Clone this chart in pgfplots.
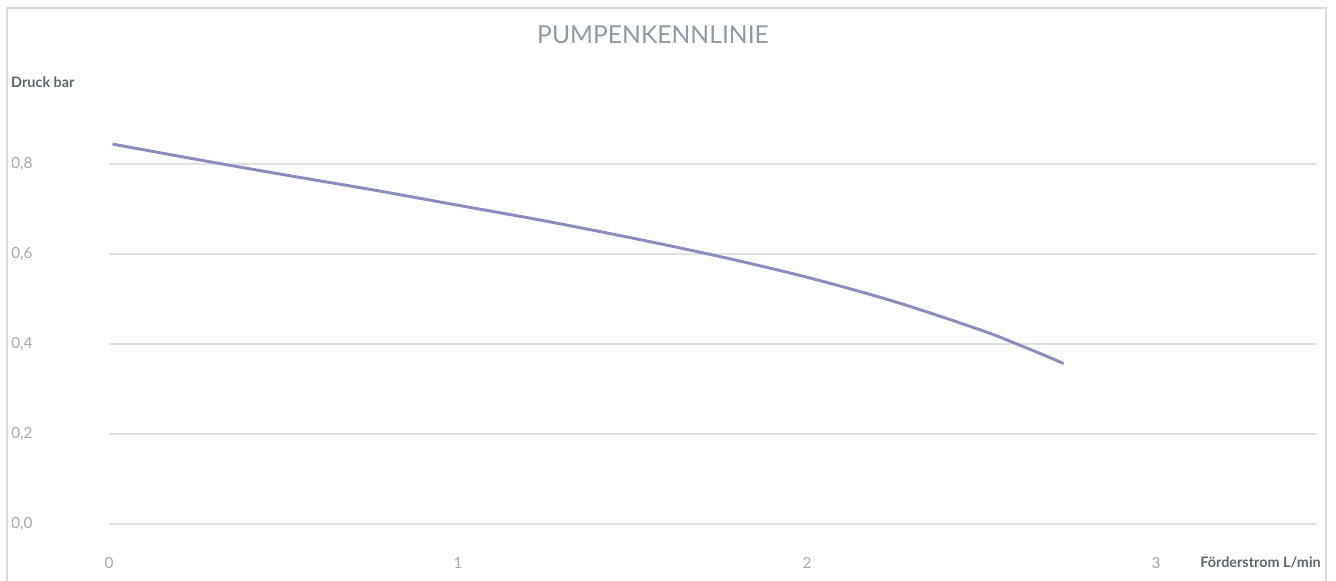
\documentclass[border=0pt]{standalone}
\usepackage{pgfplots}
\pgfplotsset{compat=1.18}
\usepackage{fontspec}
\setmainfont{Lato}
\definecolor{curvecol}{HTML}{8A8CC0}
\definecolor{gridcol}{HTML}{DDE1E3}
\definecolor{bordercol}{HTML}{DCDCDC}
\definecolor{tickcol}{HTML}{A3A8AA}
\definecolor{titlecol}{HTML}{8E9AA1}
\definecolor{labelcol}{HTML}{5B6569}
\begin{document}
\begin{tikzpicture}
\useasboundingbox (0,0) rectangle (1002pt,435.75pt);
\draw[bordercol, line width=1.5pt] (5.6pt,-5pt) -- (5.6pt,429.5pt) -- (994.5pt,429.5pt) -- (994.5pt,-5pt);
\begin{axis}[
  at={(81.75pt,42.525pt)}, anchor=south west,
  scale only axis, width=905.25pt, height=303.75pt,
  xmin=0, xmax=3.458, ymin=0, ymax=0.9,
  axis line style={draw=none}, tick style={draw=none},
  xtick={0,1,2,3}, ytick={0,0.2,0.4,0.6,0.8},
  ymajorgrids, grid style={color=gridcol, line width=1.2pt},
  /pgf/number format/assume math mode=true,
  yticklabel style={/pgf/number format/.cd, use comma, fixed, fixed zerofill, precision=1, /tikz/.cd,
     anchor=west, xshift=-73.5pt, inner sep=0pt, text=tickcol, font=\fontsize{11.5}{12}\selectfont},
  xticklabel style={anchor=center, yshift=-28.8pt, inner sep=0pt, text=tickcol, font=\fontsize{11.5}{12}\selectfont},
  title={PUMPENKENNLINIE},
  title style={at={(axis description cs:0.4507,1.188)}, anchor=center, text=titlecol, font=\fontsize{18.5}{20}\selectfont},
  ylabel={Druck bar},
  ylabel style={at={(axis description cs:-0.0812,1.092)}, anchor=west, rotate=-90, inner sep=0pt, text=labelcol, font=\bfseries\fontsize{10.8}{12}\selectfont},
  xlabel={Förderstrom L/min},
  xlabel style={at={(axis description cs:0.9039,-0.0948)}, anchor=west, inner sep=0pt, text=labelcol, font=\bfseries\fontsize{10.8}{12}\selectfont},
  clip=false,
]
\addplot[curvecol, line width=2.2pt, smooth, no marks] coordinates {
(0.01,0.845) (0.25,0.811) (0.5,0.777) (0.75,0.744) (1.0,0.709) (1.25,0.674)
(1.5,0.636) (1.75,0.595) (2.0,0.549) (2.25,0.495) (2.5,0.431) (2.6,0.401)
(2.7,0.369) (2.735,0.357)
};
\end{axis}
\end{tikzpicture}
\end{document}
